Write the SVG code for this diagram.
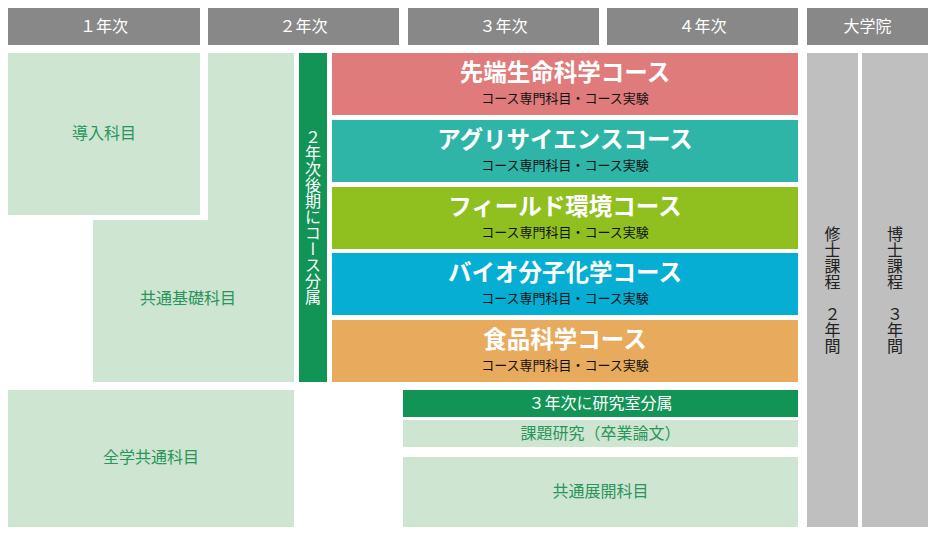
<svg xmlns="http://www.w3.org/2000/svg" width="936" height="538" viewBox="0 0 936 538">
<style>
text{font-family:"Noto Sans CJK JP","Noto Sans",sans-serif;}
.hd{fill:#888888;}
.hdt{fill:#ffffff;font-size:16px;text-anchor:middle;}
.lg{fill:#cde5d1;}
.lgt{fill:#2a955a;font-size:16px;text-anchor:middle;}
.dg{fill:#129457;}
.wt{fill:#ffffff;font-size:16px;text-anchor:middle;}
.ct{fill:#ffffff;font-size:23.5px;font-weight:bold;text-anchor:middle;}
.cs{fill:#111111;font-size:13px;text-anchor:middle;}
.gr{fill:#bfbfbf;}
.vt{fill:#222222;font-size:16px;writing-mode:vertical-rl;}
.vw{fill:#ffffff;font-size:16px;writing-mode:vertical-rl;}
</style>
<rect width="936" height="538" fill="#ffffff"/>
<g id="headers">
<g id="h1"><rect class="hd" x="8" y="8" width="192" height="37"/><text class="hdt" x="104" y="32">１年次</text></g>
<g id="h2"><rect class="hd" x="208" y="8" width="191" height="37"/><text class="hdt" x="303.5" y="32">２年次</text></g>
<g id="h3"><rect class="hd" x="408" y="8" width="191" height="37"/><text class="hdt" x="503.5" y="32">３年次</text></g>
<g id="h4"><rect class="hd" x="607" y="8" width="191" height="37"/><text class="hdt" x="702.5" y="32">４年次</text></g>
<g id="h5"><rect class="hd" x="807" y="8" width="121" height="37"/><text class="hdt" x="867.5" y="32">大学院</text></g>
</g>
<g id="intro"><rect class="lg" x="8" y="53" width="192" height="162"/><text class="lgt" x="104" y="139">導入科目</text></g>
<g id="basic"><path class="lg" d="M208 53H294V382H93V220H208Z"/><text class="lgt" x="188" y="304">共通基礎科目</text></g>
<g id="branch"><rect class="dg" x="299" y="53" width="28" height="329"/><text class="vw" x="313" y="129">２年次後期にコース分属</text></g>
<g id="c1"><rect x="332" y="53" width="466" height="62" fill="#df7b7b"/><text class="ct" x="565" y="81">先端生命科学コース</text><text class="cs" x="565" y="103">コース専門科目・コース実験</text></g>
<g id="c2"><rect x="332" y="120" width="466" height="62" fill="#2fb5a8"/><text class="ct" x="565" y="148">アグリサイエンスコース</text><text class="cs" x="565" y="170">コース専門科目・コース実験</text></g>
<g id="c3"><rect x="332" y="187" width="466" height="62" fill="#90c020"/><text class="ct" x="565" y="215">フィールド環境コース</text><text class="cs" x="565" y="237">コース専門科目・コース実験</text></g>
<g id="c4"><rect x="332" y="253" width="466" height="62" fill="#06aed3"/><text class="ct" x="565" y="281">バイオ分子化学コース</text><text class="cs" x="565" y="303">コース専門科目・コース実験</text></g>
<g id="c5"><rect x="332" y="320" width="466" height="62" fill="#e8aa5c"/><text class="ct" x="565" y="348">食品科学コース</text><text class="cs" x="565" y="370">コース専門科目・コース実験</text></g>
<g id="general"><rect class="lg" x="8" y="390" width="286" height="137"/><text class="lgt" x="151" y="463">全学共通科目</text></g>
<g id="lab"><rect class="dg" x="403" y="390" width="395" height="27"/><text class="wt" x="600.5" y="409">３年次に研究室分属</text></g>
<g id="thesis"><rect class="lg" x="403" y="420" width="395" height="27"/><text class="lgt" x="600.5" y="439">課題研究（卒業論文）</text></g>
<g id="adv"><rect class="lg" x="403" y="457" width="395" height="70"/><text class="lgt" x="600.5" y="497">共通展開科目</text></g>
<g id="master"><rect class="gr" x="807" y="53" width="51" height="474"/><text class="vt" x="832.5" y="226">修士課程　２年間</text></g>
<g id="doctor"><rect class="gr" x="862" y="53" width="66" height="474"/><text class="vt" x="895" y="226">博士課程　３年間</text></g>
<g id="connectors"></g>
</svg>
